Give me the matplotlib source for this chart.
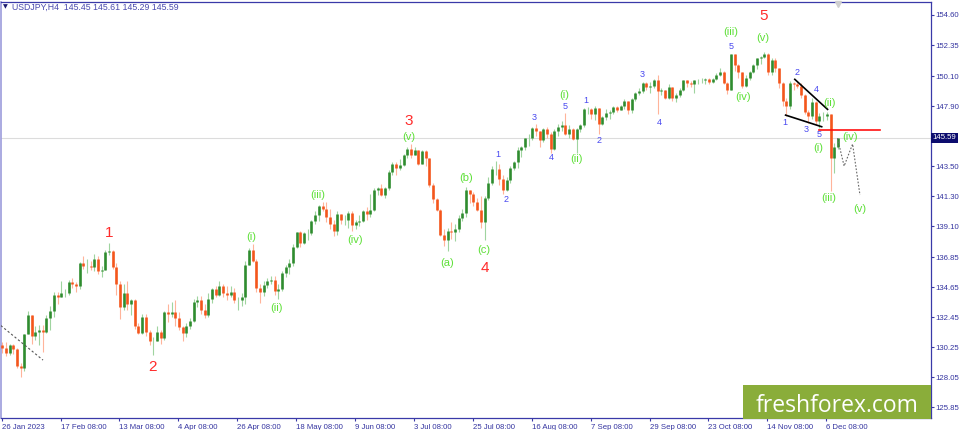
import numpy as np
import matplotlib.pyplot as plt
from matplotlib.patches import Rectangle
from matplotlib.transforms import blended_transform_factory

plt.rcParams['font.family'] = ['Liberation Sans', 'DejaVu Sans']

# daily bars, 26 Jan 2023 .. 11 Dec 2023 (one value per trading day)
first_open = 130.40
closes = [
    130.20, 129.85, 130.40, 130.10, 128.90, 128.70, 131.20, 132.60, 131.10, 131.40,
    131.50, 131.40, 132.40, 132.90, 134.10, 133.90, 134.20, 134.20, 135.00, 134.90,
    134.70, 136.40, 136.20, 136.20, 136.10, 136.70, 135.80, 135.90, 137.20, 137.30,
    136.10, 134.90, 133.20, 134.20, 133.40, 133.70, 131.80, 131.30, 132.50, 131.40,
    130.70, 130.70, 131.40, 130.90, 132.80, 132.70, 132.80, 132.40, 131.70, 131.30,
    131.80, 132.20, 133.60, 133.70, 133.00, 132.60, 133.80, 134.50, 134.10, 134.70,
    134.20, 134.10, 134.30, 133.70, 133.70, 133.90, 136.30, 137.40, 136.60, 134.60,
    134.30, 134.80, 135.10, 135.20, 134.40, 134.50, 135.70, 136.10, 136.40, 137.60,
    138.70, 137.90, 138.60, 138.60, 139.50, 139.90, 140.60, 140.40, 139.80, 139.30,
    138.80, 140.00, 139.60, 139.60, 140.10, 139.20, 139.40, 139.50, 140.20, 140.00,
    140.30, 141.80, 141.90, 141.40, 141.90, 143.10, 143.70, 143.40, 143.60, 144.30,
    144.80, 144.30, 144.70, 143.70, 144.60, 144.10, 142.10, 141.10, 140.30, 138.50,
    138.10, 138.80, 138.70, 138.90, 139.70, 140.10, 141.80, 141.50, 140.90, 140.30,
    139.40, 141.20, 142.30, 143.30, 143.30, 142.60, 141.80, 142.50, 143.40, 143.80,
    144.70, 144.90, 145.60, 145.60, 146.30, 146.10, 145.40, 146.20, 145.90, 144.80,
    146.10, 146.40, 146.50, 145.90, 146.20, 145.50, 146.20, 146.50, 147.70, 147.70,
    147.30, 147.80, 146.60, 147.10, 147.40, 147.50, 147.85, 147.60, 147.90, 148.30,
    147.60, 148.40, 148.90, 149.05, 149.60, 149.30, 149.35, 149.85, 149.00, 149.10,
    148.50, 149.30, 148.50, 148.70, 149.10, 149.80, 149.60, 149.50, 149.80, 149.80,
    149.80, 149.90, 149.70, 149.90, 150.20, 150.40, 149.60, 149.10, 151.70, 150.90,
    150.40, 149.40, 150.00, 150.40, 150.90, 151.40, 151.50, 151.70, 150.40, 151.30,
    150.70, 149.60, 148.30, 147.90, 149.60, 149.50, 149.40, 148.70, 147.50, 147.20,
    148.20, 146.80, 147.20, 147.20, 147.30, 144.10, 144.90, 145.59,
]
highs = [
    130.60, 130.60, 130.50, 130.50, 130.20, 129.10, 131.20, 132.90, 132.60, 131.80,
    131.90, 131.90, 132.60, 133.30, 134.30, 134.30, 135.10, 134.50, 135.20, 135.30,
    135.00, 136.50, 136.90, 136.70, 136.60, 137.10, 136.90, 136.20, 137.40, 137.90,
    137.40, 136.40, 135.10, 134.90, 135.10, 133.80, 133.80, 132.00, 132.70, 132.70,
    131.50, 131.00, 131.80, 131.50, 132.90, 133.40, 133.60, 133.70, 132.80, 131.80,
    132.00, 132.40, 133.80, 134.00, 134.00, 133.40, 134.20, 134.60, 134.70, 135.10,
    134.90, 134.70, 134.70, 134.60, 133.90, 134.20, 136.60, 137.50, 137.80, 136.70,
    134.90, 135.10, 135.30, 135.50, 135.50, 134.90, 135.80, 136.30, 136.70, 137.80,
    138.70, 138.80, 138.70, 138.90, 139.60, 140.20, 140.70, 140.90, 140.90, 140.40,
    139.60, 140.20, 140.00, 139.90, 140.20, 140.20, 139.60, 139.90, 140.30, 140.50,
    141.50, 141.90, 142.00, 142.20, 142.00, 143.20, 143.80, 143.80, 144.00, 144.40,
    144.90, 145.10, 144.90, 144.70, 144.70, 144.70, 144.10, 142.30, 141.20, 140.40,
    138.90, 139.00, 139.40, 139.30, 139.90, 140.40, 141.95, 141.70, 141.60, 141.20,
    141.30, 141.30, 142.70, 143.50, 143.90, 143.70, 142.90, 142.70, 143.50, 143.90,
    144.90, 145.00, 145.60, 145.90, 146.40, 146.60, 146.10, 146.30, 146.40, 146.00,
    146.20, 146.60, 146.80, 147.40, 146.50, 146.30, 146.30, 146.60, 147.80, 147.85,
    147.80, 147.90, 147.80, 147.20, 147.70, 147.60, 147.95, 147.95, 148.00, 148.40,
    148.30, 148.50, 148.95, 149.20, 149.70, 149.70, 149.70, 149.90, 150.16, 149.20,
    149.10, 149.50, 149.30, 148.90, 149.20, 149.85, 149.85, 149.75, 149.85, 149.90,
    150.00, 150.00, 150.00, 150.00, 150.30, 150.70, 150.50, 149.70, 151.70, 151.70,
    151.00, 150.40, 150.20, 150.50, 151.00, 151.45, 151.60, 151.90, 151.80, 151.40,
    151.40, 150.70, 149.70, 148.50, 149.75, 149.70, 149.70, 149.60, 148.80, 147.60,
    148.50, 148.30, 147.40, 147.45, 147.50, 147.30, 145.20, 145.61,
]
lows = [
    129.80, 129.60, 129.70, 129.75, 128.70, 128.10, 128.50, 131.20, 130.50, 130.80,
    130.40, 129.90, 131.30, 131.50, 132.50, 133.40, 133.90, 133.90, 134.10, 134.60,
    134.30, 134.50, 136.00, 135.70, 135.90, 135.80, 135.60, 135.40, 135.90, 137.00,
    136.00, 134.10, 132.30, 133.00, 133.00, 132.60, 131.60, 131.20, 131.20, 131.10,
    130.40, 129.70, 130.70, 130.50, 130.80, 132.10, 132.50, 131.80, 131.50, 130.70,
    131.00, 131.60, 132.10, 133.20, 132.70, 132.40, 132.50, 133.50, 133.90, 134.00,
    133.90, 133.70, 133.90, 133.50, 133.00, 133.30, 133.40, 136.30, 136.50, 134.30,
    133.50, 134.00, 134.60, 134.90, 134.10, 133.80, 134.40, 135.40, 135.60, 136.20,
    137.50, 137.60, 137.80, 138.10, 138.50, 139.30, 139.50, 140.20, 139.40, 138.90,
    138.40, 138.50, 139.30, 139.20, 139.00, 138.80, 138.90, 139.10, 139.40, 139.60,
    139.80, 140.20, 141.40, 141.30, 141.20, 141.80, 142.90, 142.90, 143.20, 143.50,
    144.10, 144.10, 144.30, 143.60, 143.70, 143.50, 142.00, 140.80, 140.20, 138.40,
    137.70, 137.30, 138.20, 138.00, 138.70, 139.50, 139.80, 140.80, 140.60, 140.20,
    139.00, 138.10, 141.00, 142.10, 142.90, 142.10, 141.50, 141.70, 142.30, 143.20,
    143.40, 144.20, 144.70, 145.00, 145.40, 145.70, 144.90, 145.30, 145.60, 144.50,
    144.70, 145.70, 146.10, 145.80, 145.60, 145.40, 144.45, 146.00, 146.40, 147.30,
    147.00, 146.90, 145.90, 146.50, 146.90, 147.00, 147.30, 147.50, 147.60, 147.70,
    147.30, 147.40, 148.30, 148.70, 148.90, 149.10, 148.90, 149.20, 147.30, 148.70,
    148.40, 148.40, 148.30, 148.20, 148.60, 149.00, 149.30, 149.30, 148.90, 149.50,
    149.60, 149.50, 149.50, 149.60, 149.80, 150.10, 149.50, 148.80, 149.10, 150.50,
    150.00, 149.20, 149.30, 149.80, 150.30, 150.60, 151.00, 151.40, 150.20, 150.20,
    150.40, 149.20, 147.90, 147.15, 147.70, 149.10, 149.20, 148.50, 147.30, 146.70,
    147.00, 146.60, 146.30, 146.80, 146.90, 141.70, 143.00, 144.80,
]

date_labels = ['26 Jan 2023', '17 Feb 08:00', '13 Mar 08:00', '4 Apr 08:00', '26 Apr 08:00',
               '18 May 08:00', '9 Jun 08:00', '3 Jul 08:00', '25 Jul 08:00', '16 Aug 08:00',
               '7 Sep 08:00', '29 Sep 08:00', '23 Oct 08:00', '14 Nov 08:00', '6 Dec 08:00']
price_ticks = [154.60, 152.35, 150.10, 147.90, 143.50, 141.30, 139.10,
               136.85, 134.65, 132.45, 130.25, 128.05, 125.85]
last_price = 145.59

# wave marks: (text, day, price)
red_waves = [('1', 29.0, 138.61), ('2', 40.7, 128.80), ('3', 110.5, 146.82),
             ('4', 131.1, 136.05), ('5', 206.7, 154.50)]
green_waves = [('(i)', 67.6, 138.32), ('(ii)', 74.6, 133.12), ('(iii)', 85.8, 141.40),
               ('(iv)', 95.8, 138.10), ('(v)', 110.5, 145.64), ('(a)', 120.8, 136.42),
               ('(b)', 126.0, 142.64), ('(c)', 130.9, 137.37), ('(i)', 152.6, 148.72),
               ('(ii)', 155.9, 144.03), ('(iii)', 198.0, 153.33), ('(iv)', 201.2, 148.57),
               ('(v)', 206.7, 152.89), ('(ii)', 224.6, 148.13), ('(i)', 221.6, 144.84),
               ('(iii)', 224.6, 141.18), ('(iv)', 230.3, 145.64), ('(v)', 233.0, 140.37)]
blue_waves = [('1', 134.7, 144.40), ('2', 136.8, 141.10), ('3', 144.4, 147.04),
              ('4', 149.1, 144.11), ('5', 152.9, 147.91), ('1', 158.6, 148.35),
              ('2', 162.1, 145.42), ('3', 173.8, 150.26), ('4', 178.4, 146.74),
              ('5', 198.0, 152.31), ('1', 212.6, 146.74), ('2', 215.9, 150.40),
              ('3', 218.3, 146.23), ('4', 221.1, 149.09), ('5', 221.9, 145.86)]

upper_line = ([215.3, 224.2], [149.87, 147.67])
lower_line = ([212.8, 222.6], [147.25, 146.40])
level_line = ([221.9, 238.4], [146.13, 146.13])
forecast = ([226.9, 228.7, 231.0, 233.0], [145.55, 143.52, 145.13, 141.40])
old_trend = ([-0.4, 11.06], [131.84, 129.31])

navy = '#3a3aa8'
text_blue = '#3434a0'

fig = plt.figure(figsize=(9.6, 4.3), dpi=100)
fig.patch.set_facecolor('white')
ax = fig.add_axes([1 / 960, 12 / 430, 930 / 960, 416.5 / 430])
ax.set_facecolor('white')

days = np.arange(len(closes))
c = np.array(closes)
o = np.r_[first_open, c[:-1]]
h = np.maximum(np.array(highs), np.maximum(o, c))
l = np.minimum(np.array(lows), np.minimum(o, c))
up = c >= o

ax.axhline(last_price, color='#dcdcdc', lw=0.8, zorder=1)

ax.vlines(days[up], l[up], h[up], color='#9fd49f', lw=0.8, zorder=2)
ax.vlines(days[~up], l[~up], h[~up], color='#ffb49a', lw=0.8, zorder=2)
ax.vlines(days[up], o[up], c[up], color='#2f8c2f', lw=1.9, zorder=3)
ax.vlines(days[~up], c[~up], o[~up], color='#f4561c', lw=1.9, zorder=3)

ax.plot(*upper_line, color='black', lw=1.2, zorder=4)
ax.plot(*lower_line, color='black', lw=1.2, zorder=4)
ax.plot(*level_line, color='#ff1010', lw=1.2, zorder=4)
ax.plot(*forecast, color='#666666', lw=0.8, ls=(0, (1.5, 1.5)), zorder=4)
ax.plot(*old_trend, color='#555555', lw=0.8, ls=(0, (2, 2)), zorder=4)

for s, d, p in red_waves:
    ax.text(d, p, s, color='#ff2b2b', fontsize=11, ha='center', va='center', zorder=5)
for s, d, p in green_waves:
    ax.text(d, p, s, color='#5ee038', fontsize=8, ha='center', va='center', zorder=5)
for s, d, p in blue_waves:
    ax.text(d, p, s, color='#4848f0', fontsize=6.5, ha='center', va='center', zorder=5)

ax.set_xlim(-0.353, 252.3)
ax.set_ylim(125.07, 155.57)

ax.set_xticks([16 * k - 0.17 for k in range(len(date_labels))])
ax.set_xticklabels(date_labels, ha='left')
ax.yaxis.tick_right()
ax.set_yticks(price_ticks)
ax.set_yticklabels(['%.2f' % v for v in price_ticks])
ax.tick_params(axis='both', direction='out', length=2.5, width=0.8, color=navy,
               labelsize=5.6, labelcolor=text_blue)
ax.tick_params(axis='x', pad=1.5, labelsize=5.6)
ax.tick_params(axis='y', pad=0.6)
for side in ['top', 'bottom', 'right']:
    ax.spines[side].set_color(navy)
    ax.spines[side].set_linewidth(0.9)
ax.spines['left'].set_color('#9c9cdc')
ax.spines['left'].set_linewidth(1.2)

tr = blended_transform_factory(ax.transAxes, ax.transData)
ax.text(1.0 + 1.2 / 930, last_price, '%.2f' % last_price, transform=tr, ha='left', va='center',
        color='white', fontsize=5.6,
        bbox=dict(boxstyle='square,pad=0.2', fc='#0c0c6e', ec='none'), clip_on=False)

ax.plot([226.9], [155.4], marker='v', color='#cfcfcf', markersize=5, clip_on=False, zorder=6)

fig.text(3 / 960, 1 - 7 / 430, '\u25bc', color='#1c1c70', fontsize=4.5, va='center',
         family='DejaVu Sans')
fig.text(12 / 960, 1 - 7 / 430, 'USDJPY,H4  145.45 145.61 145.29 145.59', color='#4a4aae',
         fontsize=6.3, va='center')

fig.add_artist(Rectangle((743 / 960, 11 / 430), 188 / 960, 34 / 430,
                         transform=fig.transFigure, fc='#8aad3a', ec='none', zorder=10))
fig.text(837.5 / 960, (430 - 412) / 430, 'freshforex.com', color='white', fontsize=16.5,
         family=['Open Sans', 'DejaVu Sans'], ha='center', va='baseline', zorder=11)

fig.savefig('out.png', dpi=100, facecolor='white')
